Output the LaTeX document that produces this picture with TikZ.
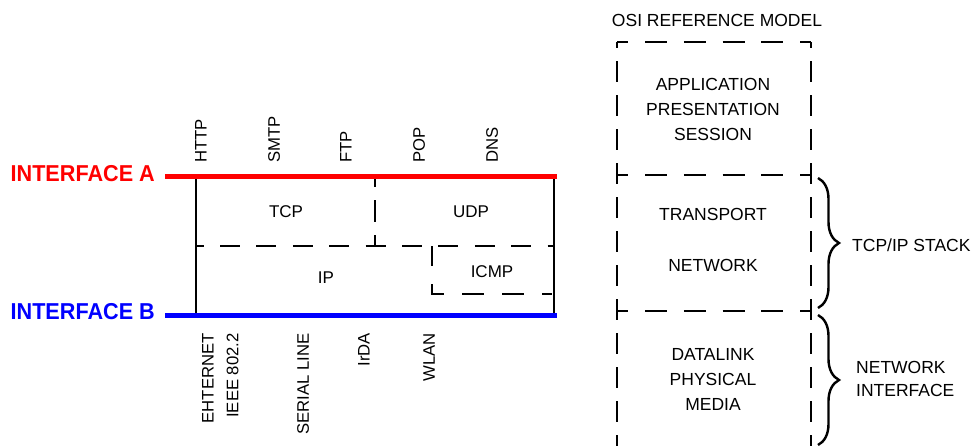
\documentclass[tikz,border=0pt]{standalone}
\usepackage{fontspec}
\setmainfont{Liberation Sans}
\usetikzlibrary{decorations.pathreplacing}
\definecolor{ifred}{RGB}{255,0,0}
\definecolor{ifblue}{RGB}{0,0,255}
\begin{document}
\begin{tikzpicture}[x=1pt,y=-1pt,
  lbl/.style={inner sep=0pt, font=\fontsize{17}{24}\selectfont},
  osilbl/.style={inner sep=0pt, align=center, font=\fontsize{17.5}{25}\selectfont},
  sidelbl/.style={inner sep=0pt, align=left, font=\fontsize{17.5}{23}\selectfont},
  uplbl/.style={inner sep=0pt, rotate=90, anchor=west, font=\fontsize{16.7}{20}\selectfont},
  downlbl/.style={inner sep=0pt, rotate=90, anchor=east, font=\fontsize{16.7}{20}\selectfont},
  iface/.style={inner sep=0pt, anchor=east, font=\fontsize{23}{26}\selectfont\bfseries},
  bus/.style={line width=5pt},
  wall/.style={line width=2pt},
  layerdash/.style={line width=2.4pt, dash pattern=on 20pt off 16.4pt, dash phase=12.4pt},
  splitdash/.style={line width=2.4pt, dash pattern=on 22pt off 13pt, dash phase=11.5pt},
  icmpdash/.style={line width=2.4pt, dash pattern=on 22pt off 18pt, dash phase=2pt},
  osih/.style={line width=2.5pt, dash pattern=on 22pt off 16.75pt, dash phase=10.75pt},
  osiv/.style={line width=2.5pt, dash pattern=on 21pt off 13pt, dash phase=15pt},
  bracket/.style={line width=2.4pt, decorate, decoration={brace, amplitude=21pt}},
]
\useasboundingbox (0,0) rectangle (977,445);
\clip (0,0) rectangle (977,445);

% ---------- TCP/IP stack between the two interfaces ----------
\coordinate (A0) at (165,176.5);
\coordinate (A1) at (557,176.5);
\coordinate (B0) at (165,315.5);
\coordinate (B1) at (557,315.5);
\coordinate (L0) at (196,176.5);
\coordinate (L1) at (196,315.5);
\coordinate (R0) at (554,176.5);
\coordinate (R1) at (554,315.5);
\coordinate (M0) at (196,246);
\coordinate (M1) at (554,246);
\coordinate (D0) at (375,176.5);
\coordinate (D1) at (375,246);
\coordinate (I0) at (432,246);
\coordinate (I1) at (432,294);
\coordinate (I2) at (552,294);

\draw[wall] (L0) -- (L1);
\draw[wall] (R0) -- (R1);
\draw[layerdash] (M0) -- (M1);
\draw[splitdash] (D0) -- (D1);
\draw[icmpdash] (I0) -- (I1) -- (I2);
\draw[bus, ifred] (A0) -- (A1);
\draw[bus, ifblue] (B0) -- (B1);

\node[iface, text=ifred] (ifA) at (155,173.5) {\scalebox{0.94}[1]{INTERFACE A}};
\node[iface, text=ifblue] (ifB) at (155,311.5) {\scalebox{0.94}[1]{INTERFACE B}};

\node[lbl] (tcp) at (286,212) {TCP};
\node[lbl] (udp) at (471,212) {UDP};
\node[lbl] (ip) at (326,278) {IP};
\node[lbl] (icmp) at (492,272) {ICMP};

% application protocols above interface A
\node[uplbl] (http) at (201,163) {HTTP};
\node[uplbl] (smtp) at (274,163) {SMTP};
\node[uplbl] (ftp) at (346,163) {FTP};
\node[uplbl] (pop) at (419,163) {POP};
\node[uplbl] (dns) at (492,163) {DNS};

% link technologies below interface B
\node[downlbl] (eth) at (208,333) {EHTERNET};
\node[downlbl] (ieee) at (232.5,333) {IEEE 802.2};
\node[downlbl] (serial) at (303,333) {SERIAL LINE};
\node[downlbl] (irda) at (364,333) {IrDA};
\node[downlbl] (wlan) at (429,333) {WLAN};

% ---------- OSI reference model ----------
\coordinate (oTL) at (617,42);
\coordinate (oTR) at (811,42);
\coordinate (oBL) at (617,452);
\coordinate (oBR) at (811,452);
\coordinate (s1L) at (617,175);
\coordinate (s1R) at (811,175);
\coordinate (s2L) at (617,311);
\coordinate (s2R) at (811,311);

\draw[osih] (oTL) -- (oTR);
\draw[osih] (s1L) -- (s1R);
\draw[osih] (s2L) -- (s2R);
\draw[osiv] (oTL) -- (oBL);
\draw[osiv] (oTR) -- (oBR);

\node[osilbl] (osi) at (717,20) {OSI REFERENCE MODEL};
\node[osilbl] (upper) at (713,109.5) {APPLICATION\\PRESENTATION\\SESSION};
\node[osilbl] (transport) at (713,214.5) {TRANSPORT};
\node[osilbl] (network) at (713,265) {NETWORK};
\node[osilbl] (lower) at (713,379.5) {DATALINK\\PHYSICAL\\MEDIA};

% ---------- braces grouping the layers ----------
\coordinate (b1a) at (818,178);
\coordinate (b1b) at (818,308);
\coordinate (b2a) at (818,315);
\coordinate (b2b) at (818,445);
\draw[bracket] (b1a) -- (b1b);
\draw[bracket] (b2a) -- (b2b);

\node[sidelbl, anchor=west] (stack) at (852,245) {TCP/IP STACK};
\node[sidelbl, anchor=west] (netif) at (856,379) {NETWORK\\INTERFACE};
\end{tikzpicture}
\end{document}
